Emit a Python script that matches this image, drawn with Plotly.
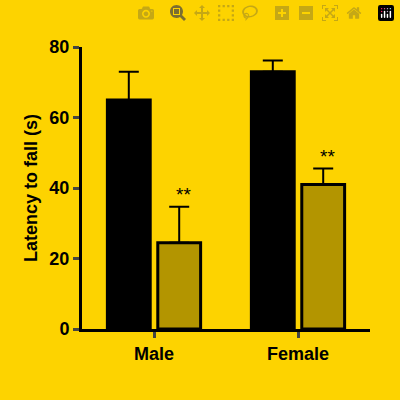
import plotly.graph_objects as go

sexes = ["Male", "Female"]
ctrl_mean = [65, 73]
ctrl_err = [8, 3.2]
mut_mean = [24.5, 41]
mut_err = [10.2, 4.5]
stars = ["**", "**"]

bg = "#FDD300"
fnt = "Liberation Sans, Arial, sans-serif"
fig = go.Figure()
fig.add_bar(x=sexes, y=ctrl_mean, marker=dict(color="black", line=dict(color="black", width=3)),
            error_y=dict(type="data", array=ctrl_err, arrayminus=[0, 0], symmetric=False,
                         color="black", thickness=2, width=10))
fig.add_bar(x=sexes, y=mut_mean, marker=dict(color="#B39500", line=dict(color="black", width=3)),
            error_y=dict(type="data", array=mut_err, arrayminus=[0, 0], symmetric=False,
                         color="black", thickness=2, width=10))

for s, m, e, st in zip(sexes, mut_mean, mut_err, stars):
    fig.add_annotation(x=s, y=m + e, text=st, showarrow=False, xshift=29, yshift=12,
                       font=dict(size=19, color="black", family=fnt))

fig.update_layout(
    width=400, height=400, paper_bgcolor=bg, plot_bgcolor=bg, showlegend=False,
    barmode="group", bargap=0.3, bargroupgap=0.15,
    margin=dict(l=82, r=30, t=47, b=71),
    font=dict(family=fnt, color="black", size=17),
    xaxis=dict(showline=True, linecolor="black", linewidth=3, ticks="outside", ticklen=6,
               tickwidth=3, tickvals=sexes, ticktext=["<b>" + s + "</b>" for s in sexes],
               tickfont=dict(size=18)),
    yaxis=dict(range=[0, 80], dtick=20, showline=True, linecolor="black", linewidth=3,
               ticks="outside", ticklen=6, tickwidth=3, showgrid=False, zeroline=False,
               tickprefix="<b>", ticksuffix="</b>", tickfont=dict(size=18),
               title=dict(text="<b>Latency to fall (s)</b>", font=dict(size=18), standoff=8)),
)
fig.write_html("out.html", post_script="document.body.style.margin='0';")
